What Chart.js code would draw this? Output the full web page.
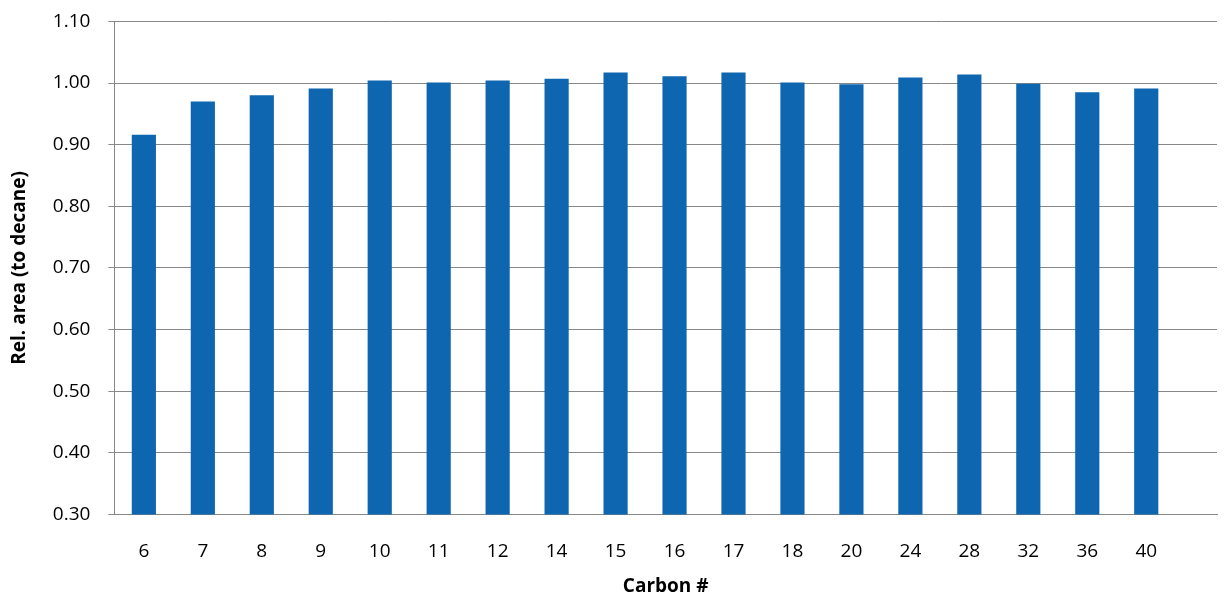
<!DOCTYPE html>
<html><head><meta charset="utf-8">
<script src="https://cdn.jsdelivr.net/npm/chart.js@4"></script>
<style>html,body{margin:0;background:#fff;overflow:hidden}#wrap{width:1225px;height:606px;margin-top:-8px}</style>
</head><body><div id="wrap"><canvas id="c"></canvas></div>
<script>
const carbons = ["6","7","8","9","10","11","12","14","15","16","17","18","20","24","28","32","36","40"];
const relArea = [0.916,0.970,0.980,0.991,1.004,1.001,1.004,1.007,1.017,1.011,1.017,1.001,0.998,1.009,1.014,0.999,0.985,0.991];

const font = { family: "'Open Sans', sans-serif", size: 19 };
new Chart(document.getElementById('c'), {
  type: 'bar',
  data: { datasets: [{ data: relArea.map((v, i) => ({ x: i, y: v })), backgroundColor: '#0e66b0',
    barPercentage: 0.41, categoryPercentage: 1 }] },
  options: {
    responsive: true, maintainAspectRatio: false, animation: false,
    layout: { padding: { top: 0, right: 8, left: 8, bottom: 0 } },
    plugins: { legend: { display: false }, tooltip: { enabled: false } },
    scales: {
      x: { type: 'linear', min: -0.5, max: 18.2, offset: false,
        afterBuildTicks: s => { s.ticks = carbons.map((_, i) => ({ value: i })); },
        grid: { display: false, drawTicks: false }, border: { color: '#888' },
        ticks: { color: '#000', font, padding: 26, autoSkip: false, maxRotation: 0,
          callback: v => carbons[v] ?? '' },
        title: { display: true, text: 'Carbon #', color: '#000', font: { ...font, weight: 'bold' }, padding: { top: -14, bottom: 0 } } },
      y: { min: 0.3, max: 1.1,
        grid: { color: '#888', drawTicks: true, tickLength: 6 }, border: { color: '#888' },
        ticks: { stepSize: 0.1, color: '#000', font, padding: 18, callback: v => v.toFixed(2) },
        title: { display: true, text: 'Rel. area (to decane)', color: '#000', font: { ...font, weight: 'bold' }, padding: { top: 0, bottom: 4 } } }
    }
  }
});
</script></body></html>
